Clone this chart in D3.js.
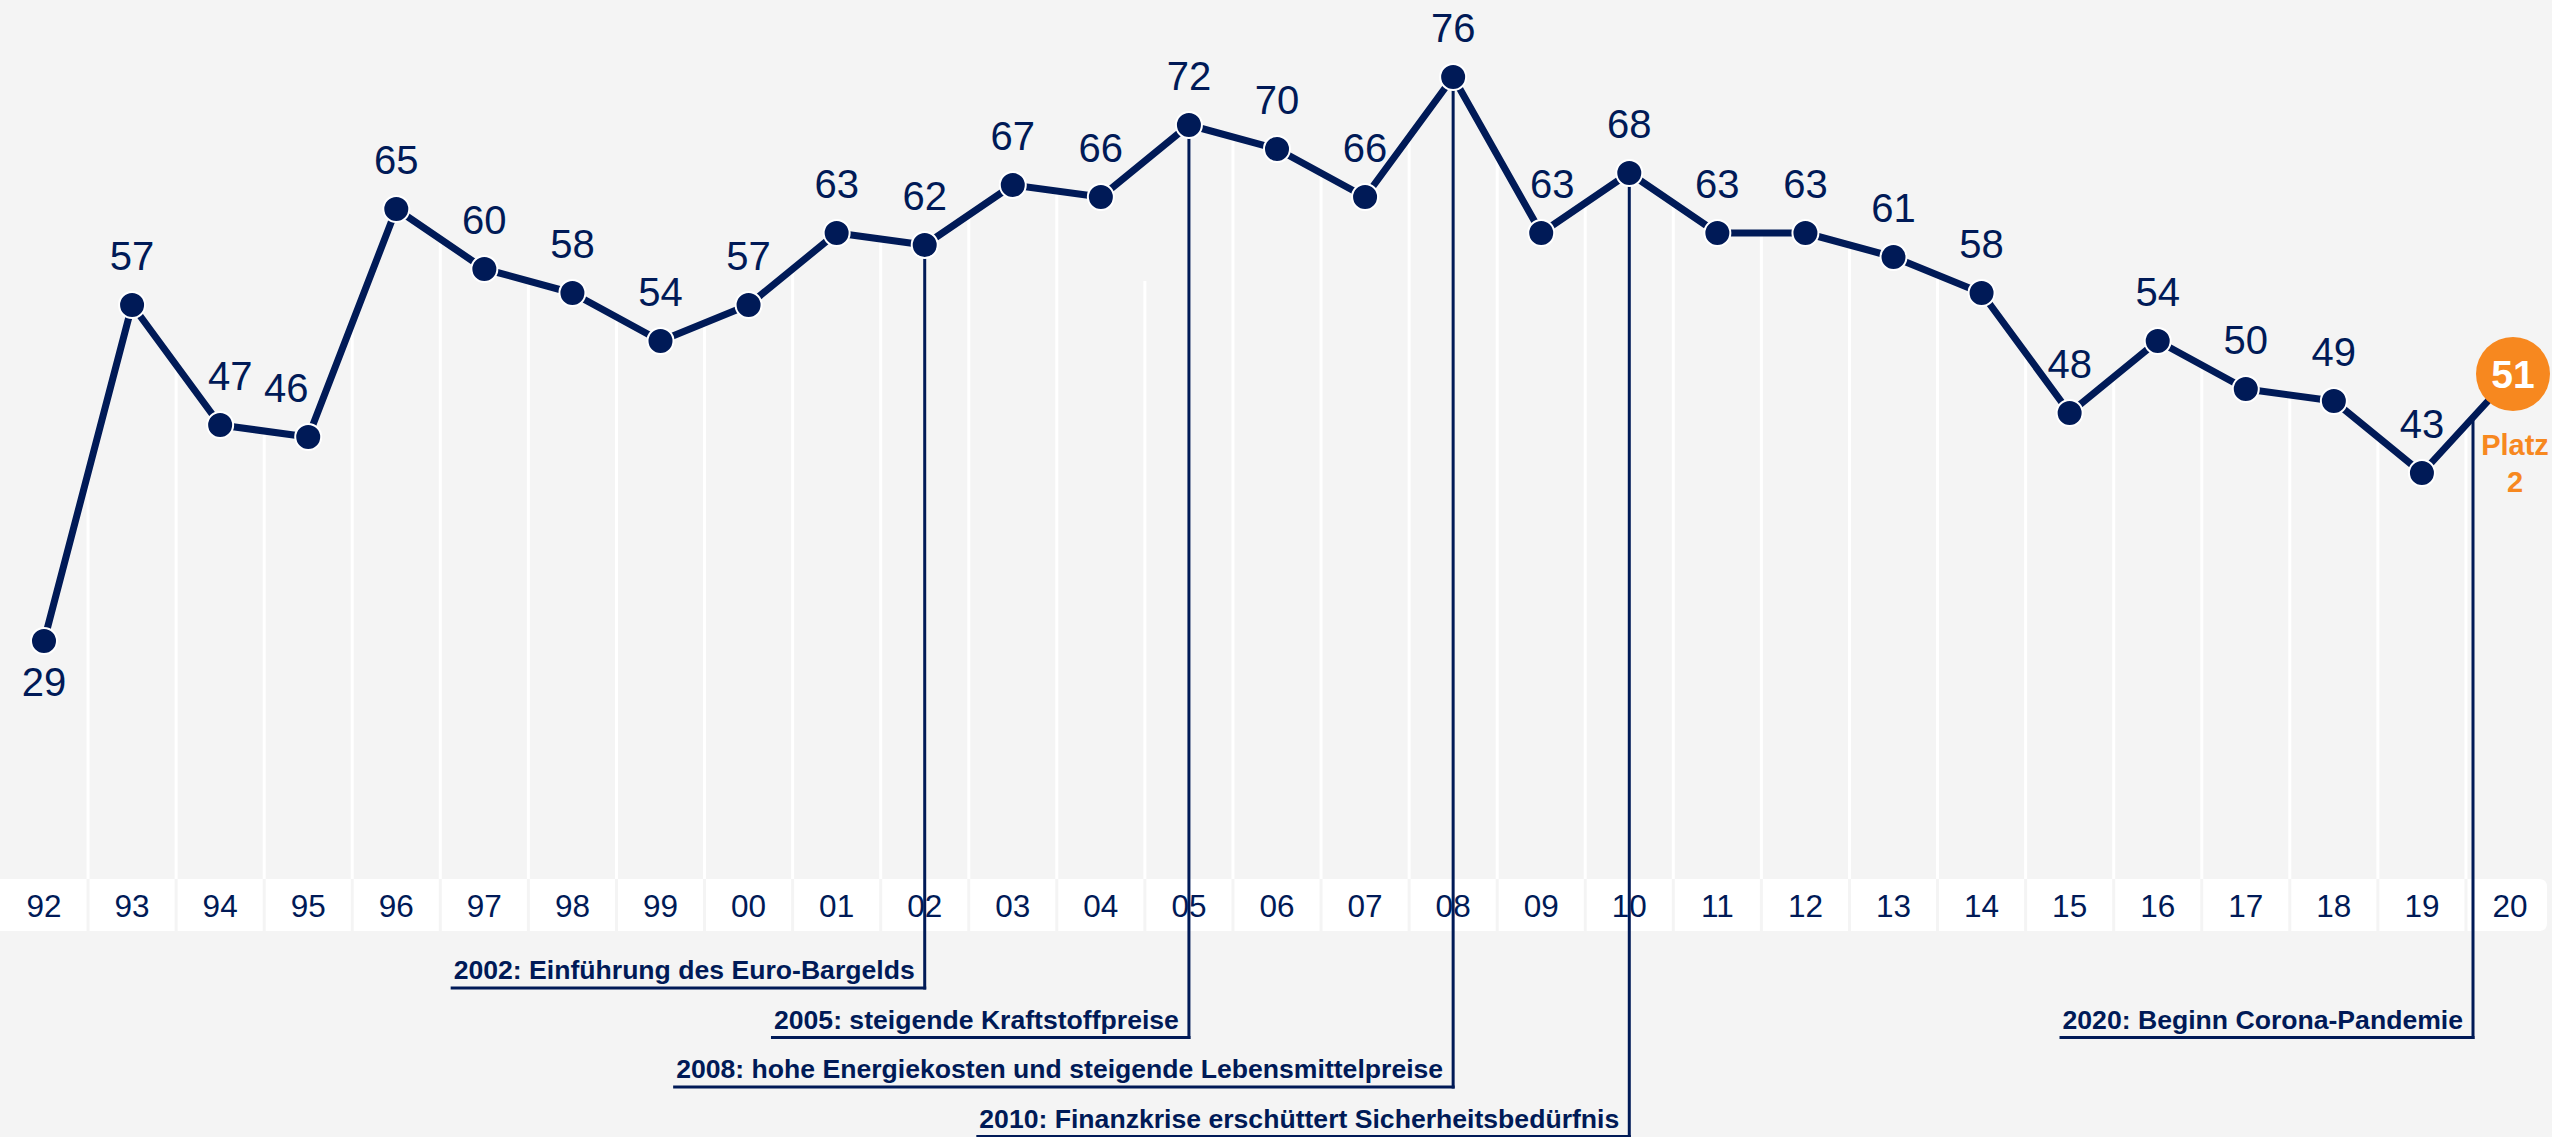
<!DOCTYPE html>
<html><head><meta charset="utf-8">
<script src="https://cdn.jsdelivr.net/npm/d3@7"></script>
<style>html,body{margin:0;padding:0;background:#f4f4f4;overflow:hidden}</style>
</head><body><svg id="c" width="2552" height="1137"></svg>
<script>
// ---- data ----
const years = ['92','93','94','95','96','97','98','99','00','01','02','03','04','05','06','07','08','09','10','11','12','13','14','15','16','17','18','19','20'];
const values = [29,57,47,46,65,60,58,54,57,63,62,67,66,72,70,66,76,63,68,63,63,61,58,48,54,50,49,43,51];
const eventYears = ['02','05','08','10','20'];
const eventTexts = ['2002: Einführung des Euro-Bargelds','2005: steigende Kraftstoffpreise','2008: hohe Energiekosten und steigende Lebensmittelpreise','2010: Finanzkrise erschüttert Sicherheitsbedürfnis','2020: Beginn Corona-Pandemie'];
const eventRows = [0,1,2,3,1];
const highlightYear = '20';
const highlightLines = ['Platz','2'];

// ---- layout / style ----
const W = 2552, H = 1137;
const navy = '#001a57', orange = '#f7881f';
const font = '"Liberation Sans", Arial, Helvetica, sans-serif';
const labelDx = {'94': 10, '95': -22, '09': 11};
const labelBelow = {'92': true};
const gridTopOverride = {12: 59};
const bandTop = 879, bandBottom = 931;

const svg = d3.select('#c');
svg.append('rect').attr('width', W).attr('height', H).attr('fill', '#f4f4f4');

const x = d3.scalePoint().domain(years).range([44, 2510]);
const y = d3.scaleLinear().domain([0, 80]).range([989, 29]);
const step = x.step();

function lineYAt(px) {
  for (let i = 0; i < years.length - 1; i++) {
    const x0 = x(years[i]), x1 = x(years[i + 1]);
    if (px >= x0 && px <= x1) {
      const t = (px - x0) / (x1 - x0);
      return y(values[i]) + (y(values[i + 1]) - y(values[i])) * t;
    }
  }
  return y(values[values.length - 1]);
}

// gridlines (white, below the line)
svg.append('g').selectAll('line').data(d3.range(years.length - 1)).join('line')
  .attr('x1', i => x(years[i]) + step / 2).attr('x2', i => x(years[i]) + step / 2)
  .attr('y1', bandTop)
  .attr('y2', i => (i in gridTopOverride) ? y(gridTopOverride[i]) : lineYAt(x(years[i]) + step / 2))
  .attr('stroke', '#fff').attr('stroke-width', 3);

// axis band
const band = svg.append('g');
years.forEach((yr, i) => {
  const x0 = Math.max(0, x(yr) - step / 2 + (i ? 1.5 : 0));
  const x1 = x(yr) + step / 2 - 1.5;
  if (i < years.length - 1) {
    band.append('rect').attr('x', x0).attr('y', bandTop).attr('width', x1 - x0).attr('height', bandBottom - bandTop).attr('fill', '#fff');
  } else {
    const xr = W - 5, r = 8;
    band.append('path').attr('fill', '#fff')
      .attr('d', `M${x0},${bandTop} L${xr - r},${bandTop} Q${xr},${bandTop} ${xr},${bandTop + r} L${xr},${bandBottom - r} Q${xr},${bandBottom} ${xr - r},${bandBottom} L${x0},${bandBottom} Z`);
  }
});

// annotation lines + texts
const ann = svg.append('g');
eventYears.forEach((yr, k) => {
  const idx = years.indexOf(yr);
  const isHi = yr === highlightYear;
  const lx = isHi ? x(yr) - 37 : x(yr);
  const top = isHi ? lineYAt(lx) : y(values[idx]);
  const rowY = 988 + eventRows[k] * 49.5;
  ann.append('line').attr('x1', lx).attr('x2', lx).attr('y1', top).attr('y2', rowY + 1.5)
    .attr('stroke', navy).attr('stroke-width', 3);
  const t = ann.append('text').attr('x', lx - 10).attr('y', rowY - 9)
    .attr('text-anchor', 'end').attr('font-family', font).attr('font-weight', 'bold')
    .attr('font-size', 26.6).attr('fill', navy).text(eventTexts[k]);
  const bb = t.node().getBBox();
  ann.append('line').attr('x1', bb.x - 3).attr('x2', lx + 1.5).attr('y1', rowY).attr('y2', rowY)
    .attr('stroke', navy).attr('stroke-width', 3);
});

// tick labels
svg.append('g').selectAll('text').data(years).join('text')
  .attr('x', d => x(d)).attr('y', 917).attr('text-anchor', 'middle')
  .attr('font-family', font).attr('font-size', 31.5).attr('fill', navy).text(d => d);

// line
const data = years.map((yr, i) => ({yr, v: values[i]}));
svg.append('path').datum(data)
  .attr('d', d3.line().x(d => x(d.yr)).y(d => y(d.v)))
  .attr('fill', 'none').attr('stroke', navy).attr('stroke-width', 7).attr('stroke-linejoin', 'round');

// points
svg.append('g').selectAll('circle').data(data.filter(d => d.yr !== highlightYear)).join('circle')
  .attr('cx', d => x(d.yr)).attr('cy', d => y(d.v)).attr('r', 13)
  .attr('fill', navy).attr('stroke', '#fff').attr('stroke-width', 2);

// value labels
svg.append('g').selectAll('text').data(data.filter(d => d.yr !== highlightYear)).join('text')
  .attr('x', d => x(d.yr) + (labelDx[d.yr] || 0))
  .attr('y', d => y(d.v) + (labelBelow[d.yr] ? 55 : -35))
  .attr('text-anchor', 'middle').attr('font-family', font).attr('font-size', 40).attr('fill', navy)
  .text(d => d.v);

// highlight
const hd = data.find(d => d.yr === highlightYear);
const hx = x(hd.yr) + 3, hy = y(hd.v) - 3;
svg.append('circle').attr('cx', hx).attr('cy', hy).attr('r', 37).attr('fill', orange);
svg.append('text').attr('x', hx).attr('y', hy + 14).attr('text-anchor', 'middle')
  .attr('font-family', font).attr('font-weight', 'bold').attr('font-size', 39).attr('fill', '#fff').text(hd.v);
svg.append('g').selectAll('text').data(highlightLines).join('text')
  .attr('x', hx + 2).attr('y', (d, i) => hy + 81 + i * 37).attr('text-anchor', 'middle')
  .attr('font-family', font).attr('font-weight', 'bold').attr('font-size', 29).attr('fill', orange)
  .text(d => d);
</script>
</body></html>
